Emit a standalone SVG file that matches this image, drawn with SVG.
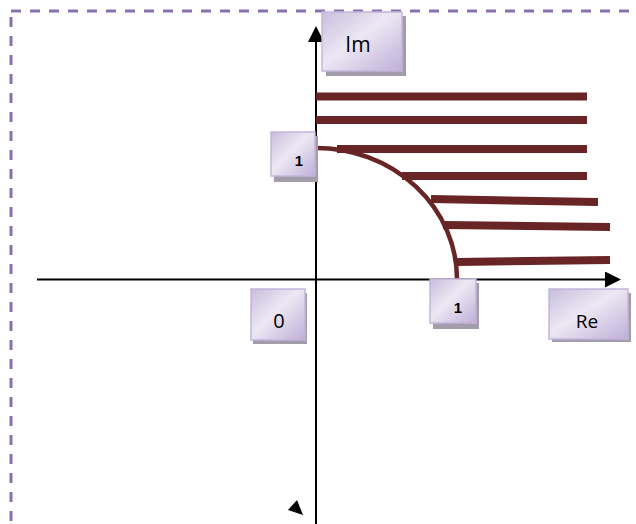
<svg xmlns="http://www.w3.org/2000/svg" width="636" height="524" viewBox="0 0 636 524">
<defs>
<linearGradient id="boxg" x1="0" y1="0" x2="1" y2="1">
<stop offset="0" stop-color="#c9bddd"/>
<stop offset="0.45" stop-color="#ece8f3"/>
<stop offset="1" stop-color="#bfaed8"/>
</linearGradient>
<marker id="arr" markerWidth="16" markerHeight="16" refX="14" refY="8" orient="auto" markerUnits="userSpaceOnUse">
<path d="M0,0 L16,8 L0,16 Z" fill="#000"/>
</marker>
</defs>
<style>
.frame{fill:none;stroke:#8a70ad;stroke-width:3;stroke-dasharray:10 9}
.axis{stroke:#000;stroke-width:2;fill:none}
.hatch{stroke:#692425;stroke-width:8;fill:none}
.arc{stroke:#692425;stroke-width:4.5;fill:none}
.shadow{fill:#a39cab}
.box{fill:url(#boxg);stroke:#c4b5dc;stroke-width:1.5}
.lbl{font-family:"Open Sans","Liberation Sans",sans-serif;fill:#000;text-anchor:middle}
.num{font-family:"Liberation Sans",sans-serif;font-weight:bold;font-size:15px;fill:#000;text-anchor:middle}
</style>
<rect class="frame" x="11" y="11" width="700" height="600"/>
<g id="connectors">
<line class="axis" x1="37" y1="279.5" x2="619" y2="279.5" marker-end="url(#arr)"/>
<line class="axis" x1="316" y1="524" x2="316" y2="28" marker-end="url(#arr)"/>
<path d="M288,510 L297,500 L303,515 Z" fill="#000"/>
</g>
<g id="region">
<line class="hatch" x1="316" y1="96.5" x2="587" y2="96.5"/>
<line class="hatch" x1="316" y1="120" x2="587" y2="120"/>
<line class="hatch" x1="337" y1="149" x2="587" y2="149"/>
<line class="hatch" x1="402" y1="176" x2="587" y2="176"/>
<line class="hatch" x1="431" y1="199" x2="598" y2="202"/>
<line class="hatch" x1="443" y1="225" x2="610" y2="227"/>
<line class="hatch" x1="457" y1="262" x2="610" y2="260"/>
<path class="arc" d="M316,148 A141,131 0 0 1 457,279"/>
</g>
<g id="node-im">
<rect class="shadow" x="326" y="16" width="80" height="60"/>
<rect class="box" x="322" y="12" width="80" height="59"/>
<text class="lbl" x="358" y="52" font-size="21">Im</text>
</g>
<g id="node-one-im">
<rect class="shadow" x="274" y="136" width="44" height="46"/>
<rect class="box" x="271" y="132" width="44" height="44"/>
<text class="num" x="299" y="166">1</text>
</g>
<g id="node-zero">
<rect class="shadow" x="253" y="293" width="54" height="51"/>
<rect class="box" x="251" y="289" width="54" height="51"/>
<text class="lbl" x="279" y="328" font-size="20">0</text>
</g>
<g id="node-one-re">
<rect class="shadow" x="433" y="283" width="46" height="46"/>
<rect class="box" x="430" y="279" width="46" height="44"/>
<text class="num" x="458" y="313">1</text>
</g>
<g id="node-re">
<rect class="shadow" x="552" y="293" width="79" height="49"/>
<rect class="box" x="549" y="289" width="79" height="50"/>
<text class="lbl" x="587" y="328" font-size="19">Re</text>
</g>
</svg>
